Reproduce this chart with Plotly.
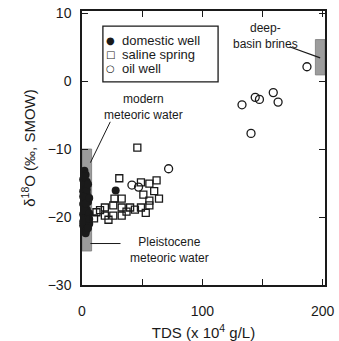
import plotly.graph_objects as go

# Domestic wells (TDS in 10^4 g/L, delta-18O in permil SMOW)
dom_tds = [2, 3, 1, 4, 2, 3, 1, 4, 2, 3, 5, 1, 2, 4, 3, 1, 5, 2, 4, 3, 1, 2, 4, 3,
           5, 1, 2, 3, 4, 2, 1, 3, 6, 6, 6, 5, 6, 5, 28]
dom_d18o = [-13.2, -13.8, -14.5, -14.8, -15.3, -15.9, -16.2, -16.6, -17.0, -17.4,
            -17.8, -18.1, -18.5, -18.9, -19.2, -19.6, -19.9, -20.2, -20.5, -20.9,
            -21.2, -21.5, -21.8, -22.1, -20.0, -17.0, -14.0, -22.4, -16.0, -19.0,
            -20.7, -18.0, -17.2, -19.5, -21.0, -15.2, -20.3, -21.6, -16.1]

# Saline springs
spr_tds = [46, 31, 49, 56, 62, 51, 64, 56, 27, 33, 12, 19, 19, 26, 26, 33, 33,
           40, 49, 56, 10, 15, 22, 37, 44, 53, 60]
spr_d18o = [-9.8, -14.3, -14.9, -15.1, -14.6, -16.7, -17.3, -17.6, -17.3, -17.3,
            -19.3, -18.6, -19.8, -18.3, -19.8, -18.6, -19.8, -18.6, -18.6, -18.3,
            -20.2, -19.0, -20.4, -19.2, -18.9, -19.4, -16.2]

# Oil wells
oil_tds = [41.5, 47, 72, 133, 144, 147.5, 159, 163, 140.5, 187]
oil_d18o = [-15.3, -15.6, -12.9, -3.5, -2.4, -2.7, -1.7, -3.1, -7.7, 2.1]

y_ticks = [10, 0, -10, -20, -30]

# Reference water ranges: (TDS start, TDS end, d18O low, d18O high)
meteoric_box = (0, 8, -25, -10)
brine_box = (194, 202, 0.9, 6.1)

legend_labels = ["domestic well", "saline spring", "oil well"]
legend_glyphs = ["●", "□", "○"]

FONT = "Liberation Sans, Arial, sans-serif"
INK = "#1a1a1a"

fig = go.Figure()
fig.add_trace(go.Scatter(
    x=dom_tds, y=dom_d18o, mode="markers", name=legend_labels[0],
    marker=dict(symbol="circle", size=8, color=INK, line=dict(width=0)),
    cliponaxis=False))
fig.add_trace(go.Scatter(
    x=spr_tds, y=spr_d18o, mode="markers", name=legend_labels[1],
    marker=dict(symbol="square-open", size=7, color=INK, line=dict(width=1.3))))
fig.add_trace(go.Scatter(
    x=oil_tds, y=oil_d18o, mode="markers", name=legend_labels[2],
    marker=dict(symbol="circle-open", size=8, color=INK, line=dict(width=1.3))))

for (x0, x1, y0, y1) in (meteoric_box, brine_box):
    fig.add_shape(type="rect", xref="x", yref="y", x0=x0, x1=x1, y0=y0, y1=y1,
                  fillcolor="#9c9c9c", line=dict(color="#7a7a7a", width=0.8),
                  layer="below")

# Leader lines for the labels
fig.add_shape(type="line", xref="x", yref="y", x0=23.5, y0=-6.0, x1=7, y1=-12,
              line=dict(color=INK, width=1))
fig.add_shape(type="line", xref="x", yref="y", x0=7, y0=-23.9, x1=32, y1=-23.9,
              line=dict(color=INK, width=1))
fig.add_shape(type="line", xref="x", yref="y", x0=173, y0=5.0, x1=198, y1=3.4,
              line=dict(color=INK, width=1.2))

ann_font = dict(family=FONT, size=12, color=INK)
fig.add_annotation(x=51, y=-3.75, xref="x", yref="y", text="modern<br>meteoric water",
                   showarrow=False, font=ann_font, align="center")
fig.add_annotation(x=73, y=-24.9, xref="x", yref="y", text="Pleistocene<br>meteoric water",
                   showarrow=False, font=ann_font, align="center")
fig.add_annotation(x=152.5, y=6.6, xref="x", yref="y", text="deep-<br>basin brines",
                   showarrow=False, font=ann_font, align="center")

# Boxed key in the upper left of the plot area
fig.add_shape(type="rect", xref="paper", yref="paper", x0=0.086, x1=0.56,
              y0=0.741, y1=0.945, fillcolor="white",
              line=dict(color=INK, width=1.3), layer="above")
key_rows = [0.893, 0.843, 0.790]
for glyph, label, ky in zip(legend_glyphs, legend_labels, key_rows):
    fig.add_annotation(x=0.116, y=ky, xref="paper", yref="paper", text=glyph,
                       showarrow=False, xanchor="center", yanchor="middle",
                       font=dict(family="DejaVu Sans", size=10, color=INK))
    fig.add_annotation(x=0.155, y=ky, xref="paper", yref="paper", text=label,
                       showarrow=False, xanchor="left", yanchor="middle",
                       font=dict(family=FONT, size=13, color=INK))

axis_common = dict(showline=True, linecolor=INK, linewidth=1.5, mirror="ticks",
                   ticks="inside", ticklen=6, tickwidth=1.2, tickcolor=INK,
                   showgrid=False, zeroline=False, automargin=False,
                   tickfont=dict(family=FONT, size=14, color=INK))

fig.update_xaxes(range=[0, 202], tick0=0, dtick=100,
                 minor=dict(dtick=50, ticks="inside", ticklen=6, tickwidth=1.2,
                            tickcolor=INK, showgrid=False),
                 ticklabelstandoff=12,
                 title=dict(text="TDS (x 10<sup>4</sup> g/L)", standoff=12,
                            font=dict(family=FONT, size=15, color=INK)),
                 **axis_common)
fig.update_yaxes(range=[-30, 10.3], tickvals=y_ticks, ticklabelstandoff=6,
                 title=dict(text="δ<sup>18</sup>O (‰, SMOW)", standoff=8,
                            font=dict(family=FONT, size=15, color=INK)),
                 **axis_common)

fig.update_layout(
    width=339, height=341,
    margin=dict(l=82, r=14, t=11, b=56, autoexpand=False),
    paper_bgcolor="white", plot_bgcolor="white",
    showlegend=False,
)

fig.write_html("out.html")
